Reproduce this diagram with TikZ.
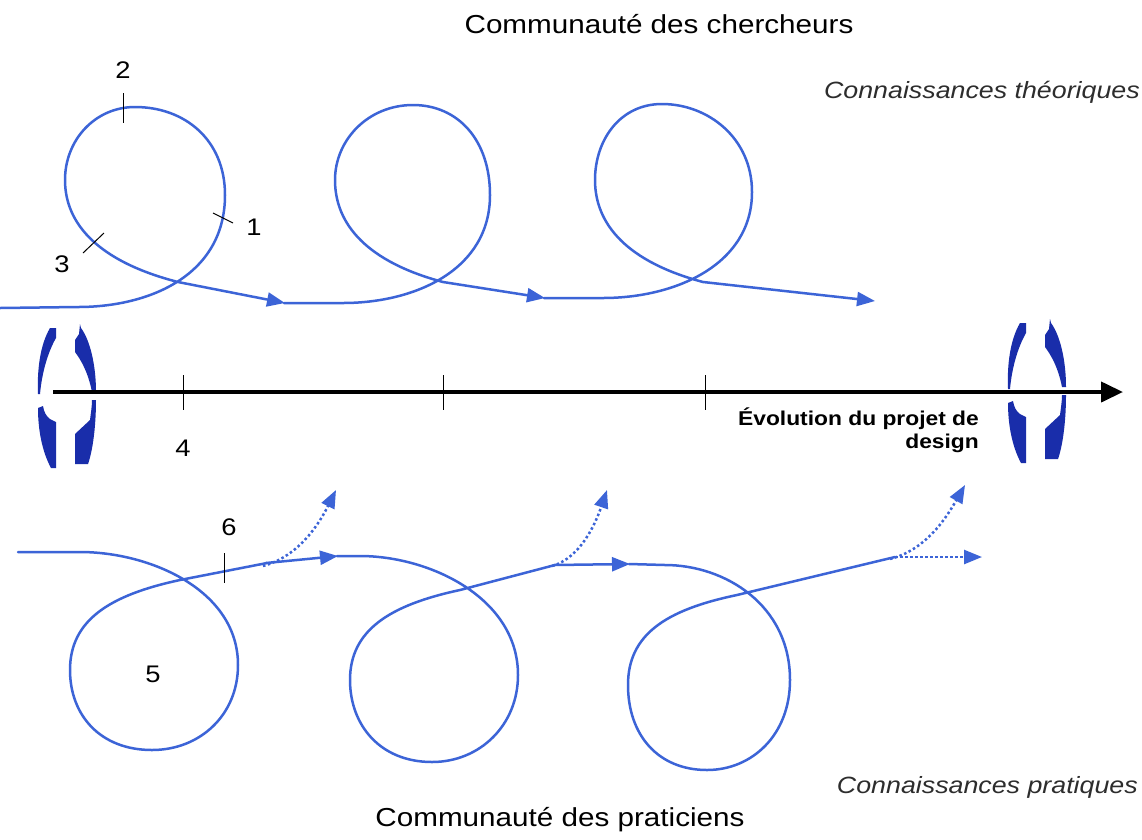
\documentclass[tikz,border=0pt]{standalone}
\usepackage{fontspec}
\setmainfont{Liberation Sans}
\newfontfamily\widesans[FakeStretch=1.14]{Liberation Sans}
\usetikzlibrary{arrows.meta}
\definecolor{loopblue}{RGB}{60,100,215}
\definecolor{ringblue}{RGB}{25,45,170}
\definecolor{txtgray}{RGB}{45,45,45}
\begin{document}
\begin{tikzpicture}[x=1pt,y=-1pt,
  loopline/.style={draw=loopblue, line width=2.5pt, line cap=round, line join=round},
  tipped/.style={-{Triangle[length=18pt,width=14pt,fill=loopblue]}},
  dotline/.style={draw=loopblue, line width=2.5pt, dash pattern=on 2.5pt off 2.5pt},
  tickmark/.style={draw=black, line width=1pt},
  num/.style={font=\widesans\fontsize{24}{28}\selectfont, inner sep=0pt},
  titletxt/.style={font=\widesans\fontsize{26}{30}\selectfont, inner sep=0pt, anchor=base},
  knowtxt/.style={font=\widesans\fontsize{23.5}{28}\selectfont\itshape, text=txtgray, inner sep=0pt, anchor=base east},
  evotxt/.style={font=\widesans\fontsize{20}{24}\selectfont\bfseries, inner sep=0pt, anchor=base east},
  ring/.style={fill=ringblue, draw=none}]
\fill[white] (0,0) rectangle (1142,839);
\useasboundingbox (0,0) rectangle (1142,839);

% rotating arrow symbols
\foreach \dx/\dy in {0/0, 970/5} {
\begin{scope}[xshift=\dx pt, yshift=\dy pt]
  \path[ring] (50,328) .. controls (40,345) and (37,370) .. (38,394)
     -- (40,394) .. controls (42,372) and (48,352) .. (56,338) -- (56,328) -- cycle;
  \path[ring] (38,408) .. controls (38,435) and (44,455) .. (51,468)
     -- (56,468) -- (56,422) -- (50,419) .. controls (46,416) and (44,412) .. (43,406) -- cycle;
  \path[ring] (80,324) -- (81,328) .. controls (90,340) and (96,365) .. (96,392)
     -- (92,392) .. controls (88,372) and (81,360) .. (75,352) -- (75,340) -- (79,334) -- cycle;
  \path[ring] (96,400) .. controls (96,425) and (93,450) .. (88,464)
     -- (75,464) -- (75,434) -- (90,420) .. controls (91,412) and (92,406) .. (92,400) -- cycle;
\end{scope}
}

% axis
\coordinate (axs) at (53,392);
\coordinate (axe) at (1123,392);
\draw[line width=4pt, -{Triangle[length=22pt,width=20pt]}] (axs) -- (axe);
\foreach \tx in {183,443,705} \draw[tickmark] (\tx,375) -- (\tx,410);

% top loops
\draw[loopline] (0,308) -- (78,307) .. controls (150,307) and (225,275) .. (225,195)
   .. controls (225,140) and (185,107) .. (135,107)
   .. controls (95,107) and (65,140) .. (65,180)
   .. controls (65,225) and (100,262) .. (178,282);
\draw[loopline, tipped] (178,282) -- (285,303);
\draw[loopline] (284,303) -- (343,303) .. controls (415,303) and (490,270) .. (490,195)
   .. controls (490,140) and (458,105) .. (413,105)
   .. controls (368,105) and (335,140) .. (335,180)
   .. controls (335,225) and (368,262) .. (443,282);
\draw[loopline, tipped] (443,282) -- (545,298);
\draw[loopline] (544,298) -- (603,298) .. controls (675,298) and (752,265) .. (752,192)
   .. controls (752,138) and (708,104) .. (662,104)
   .. controls (620,104) and (595,140) .. (595,180)
   .. controls (595,225) and (628,262) .. (703,282);
\draw[loopline, tipped] (703,282) -- (875,301);

% bottom loops
\draw[loopline] (18,552) -- (80,552) .. controls (150,552) and (238,590) .. (238,665)
   .. controls (238,715) and (200,750) .. (152,750)
   .. controls (100,750) and (70,715) .. (70,670)
   .. controls (70,620) and (110,595) .. (180,580) -- (267,563);
\draw[loopline, tipped] (266,563) -- (338,556);
\draw[dotline, tipped] (263,566) .. controls (300,556) and (320,522) .. (336,490);
\draw[loopline] (337,556) -- (360,556) .. controls (430,556) and (518,598) .. (518,675)
   .. controls (518,725) and (480,762) .. (432,762)
   .. controls (380,762) and (350,725) .. (350,680)
   .. controls (350,630) and (390,605) .. (460,590) -- (555,565);
\draw[loopline, tipped] (554,565) -- (630,564);
\draw[dotline, tipped] (552,566) .. controls (580,558) and (595,525) .. (607,490);
\draw[loopline] (629,564) -- (665,565) .. controls (725,565) and (790,605) .. (790,680)
   .. controls (790,735) and (752,770) .. (707,770)
   .. controls (658,770) and (628,735) .. (628,685)
   .. controls (628,635) and (665,610) .. (737,595) -- (895,557);
\draw[dotline, tipped] (895,557) -- (982,557);
\draw[dotline, tipped] (890,559) .. controls (925,550) and (945,520) .. (965,485);

% small tick marks on the loops
\draw[tickmark] (123,93) -- (123,123);
\draw[tickmark] (213,213) -- (233,223);
\draw[tickmark] (83,253) -- (104,233);
\draw[tickmark] (224,553) -- (224,583);

% numbers
\node[num] (n1) at (254,227) {1};
\node[num] (n2) at (123,70) {2};
\node[num] (n3) at (62,264) {3};
\node[num] (n4) at (183,448) {4};
\node[num] (n5) at (153,674) {5};
\node[num] (n6) at (229,527) {6};

% texts
\node[titletxt] (tc) at (659,33) {Communauté des chercheurs};
\node[titletxt] (tp) at (560,826) {Communauté des praticiens};
\node[knowtxt] (kt) at (1140,98) {Connaissances théoriques};
\node[knowtxt] (kp) at (1138,793) {Connaissances pratiques};
\node[evotxt] (evo1) at (979,425) {Évolution du projet de};
\node[evotxt] (evo2) at (979,448) {design};
\end{tikzpicture}
\end{document}
